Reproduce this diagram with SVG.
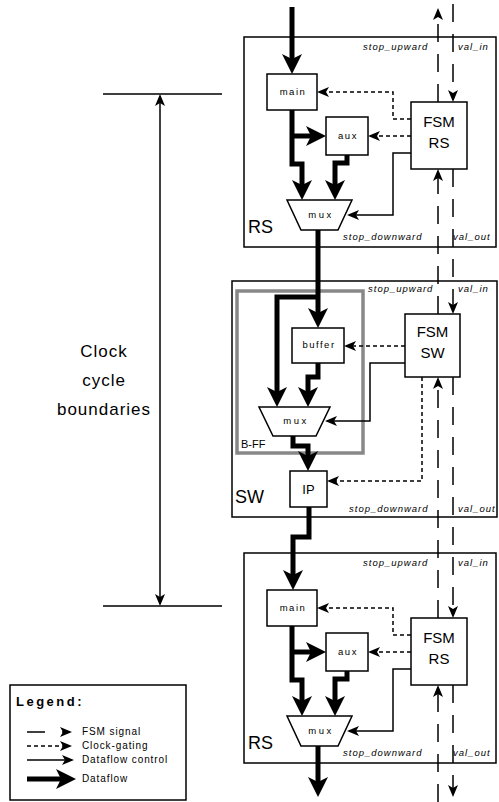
<svg xmlns="http://www.w3.org/2000/svg" width="499" height="802" viewBox="0 0 499 802">
<style>
text{font-family:"Liberation Sans",Arial,sans-serif;fill:#000}
.box{fill:#fff;stroke:#000;stroke-width:1.5}
.frame{fill:none;stroke:#000;stroke-width:1.5}
.bff{fill:none;stroke:#888;stroke-width:3.5}
.lbl{font-size:9.5px;letter-spacing:1.5px;text-anchor:middle}
.mx{font-size:9.5px;letter-spacing:2.5px;text-anchor:middle}
.fsm{font-size:15px;text-anchor:middle}
.big{font-size:18px}
.sig{font-size:9.5px;font-style:italic;letter-spacing:1px}
.data{fill:none;stroke:#000;stroke-width:5}
.ctl{fill:none;stroke:#000;stroke-width:1.5}
.cg{fill:none;stroke:#000;stroke-width:1.5;stroke-dasharray:4,3}
.fs{fill:none;stroke:#000;stroke-width:1.5;stroke-dasharray:18,12}
.leg{font-size:10px;letter-spacing:0.9px}
</style>
<defs>
<marker id="dA" viewBox="0 0 20 20" markerWidth="20" markerHeight="20" refX="14" refY="10" orient="auto" markerUnits="userSpaceOnUse"><path d="M0,0 L20,10 L0,20 L5,10 Z" fill="#000"/></marker>
<marker id="sA" viewBox="0 0 12 10" markerWidth="12" markerHeight="10" refX="10" refY="5" orient="auto-start-reverse" markerUnits="userSpaceOnUse"><path d="M0,0 L12,5 L0,10 L3,5 Z" fill="#000"/></marker>
</defs>

<!-- clock cycle boundaries -->
<g id="clock-boundaries">
<path class="ctl" d="M103,94 H222 M103,606 H222"/>
<path class="ctl" d="M160,96 V604" marker-start="url(#sA)" marker-end="url(#sA)"/>
<text x="104" y="357" font-size="17" letter-spacing="1" text-anchor="middle">Clock</text>
<text x="104" y="386" font-size="17" letter-spacing="1" text-anchor="middle">cycle</text>
<text x="104" y="415" font-size="17" letter-spacing="1" text-anchor="middle">boundaries</text>
</g>

<!-- top RS -->
<g id="rs-top">
<rect class="frame" x="244" y="37" width="252" height="210"/>
<text class="big" x="248" y="233">RS</text>
<text class="sig" x="363" y="50">stop_upward</text>
<text class="sig" x="458" y="50">val_in</text>
<text class="sig" x="343" y="240">stop_downward</text>
<text class="sig" x="453" y="240">val_out</text>
</g>
<g id="rs-top-main"><rect class="box" x="267" y="74" width="50" height="36"/><text class="lbl" x="293" y="95">main</text></g>
<g id="rs-top-aux"><rect class="box" x="326" y="117" width="42" height="38"/><text class="lbl" x="348" y="139">aux</text></g>
<g id="rs-top-mux"><polygon class="box" points="287,200 352,200 338,230 301,230"/><text class="mx" x="321" y="218">mux</text></g>
<g id="rs-top-fsm"><rect class="box" x="411" y="102" width="56" height="67"/><text class="fsm" x="439" y="127">FSM</text><text class="fsm" x="439" y="148">RS</text></g>

<!-- SW -->
<g id="sw">
<rect class="frame" x="232" y="281" width="265" height="236"/>
<text class="big" x="235" y="503">SW</text>
<text class="sig" x="368" y="292">stop_upward</text>
<text class="sig" x="458" y="292">val_in</text>
<text class="sig" x="349" y="512">stop_downward</text>
<text class="sig" x="458" y="512">val_out</text>
</g>
<g id="sw-bff"><rect class="bff" x="237" y="291" width="126" height="162"/><text x="241" y="448" font-size="11">B-FF</text></g>
<g id="sw-buffer"><rect class="box" x="292" y="328" width="52" height="35"/><text class="lbl" x="319" y="348" letter-spacing="1.2">buffer</text></g>
<g id="sw-mux"><polygon class="box" points="259,407 330,407 316,436 273,436"/><text class="mx" x="296" y="424">mux</text></g>
<g id="sw-ip"><rect class="box" x="290" y="471" width="37" height="36"/><text x="308.5" y="494" font-size="13" text-anchor="middle">IP</text></g>
<g id="sw-fsm"><rect class="box" x="405" y="314" width="55" height="63"/><text class="fsm" x="432.5" y="337">FSM</text><text class="fsm" x="432.5" y="358">SW</text></g>

<!-- bottom RS -->
<g id="rs-bottom">
<rect class="frame" x="244" y="553" width="252" height="210"/>
<text class="big" x="248" y="749">RS</text>
<text class="sig" x="363" y="566">stop_upward</text>
<text class="sig" x="458" y="566">val_in</text>
<text class="sig" x="343" y="756">stop_downward</text>
<text class="sig" x="453" y="756">val_out</text>
</g>
<g id="rs-bottom-main"><rect class="box" x="267" y="590" width="50" height="36"/><text class="lbl" x="293" y="611">main</text></g>
<g id="rs-bottom-aux"><rect class="box" x="326" y="633" width="42" height="38"/><text class="lbl" x="348" y="655">aux</text></g>
<g id="rs-bottom-mux"><polygon class="box" points="287,716 352,716 338,746 301,746"/><text class="mx" x="321" y="734">mux</text></g>
<g id="rs-bottom-fsm"><rect class="box" x="411" y="618" width="56" height="67"/><text class="fsm" x="439" y="643">FSM</text><text class="fsm" x="439" y="664">RS</text></g>

<g id="connectors">
<!-- dataflow -->
<path class="data" d="M292,7 V68" marker-end="url(#dA)"/>
<path class="data" d="M292,110 V164 H302 V194" marker-end="url(#dA)"/>
<path class="data" d="M292,136 H320" marker-end="url(#dA)"/>
<path class="data" d="M347,155 V163 H335 V194" marker-end="url(#dA)"/>
<path class="data" d="M318,230 V322" marker-end="url(#dA)"/>
<path class="data" d="M318,297 H277 V401" marker-end="url(#dA)"/>
<path class="data" d="M318,363 V377 H308 V401" marker-end="url(#dA)"/>
<path class="data" d="M293,436 V446 H308 V465" marker-end="url(#dA)"/>
<path class="data" d="M309,507 V537 H293 V584" marker-end="url(#dA)"/>
<path class="data" d="M292,626 V680 H302 V710" marker-end="url(#dA)"/>
<path class="data" d="M292,652 H320" marker-end="url(#dA)"/>
<path class="data" d="M347,671 V679 H335 V710" marker-end="url(#dA)"/>
<path class="data" d="M318,746 V791" marker-end="url(#dA)"/>
<!-- clock gating -->
<path class="cg" d="M411,119 H393 V92 H319" marker-end="url(#sA)"/>
<path class="cg" d="M411,136 H370" marker-end="url(#sA)"/>
<path class="cg" d="M405,346 H346" marker-end="url(#sA)"/>
<path class="cg" d="M422,377 V481 H329" marker-end="url(#sA)"/>
<path class="cg" d="M411,635 H393 V608 H319" marker-end="url(#sA)"/>
<path class="cg" d="M411,652 H370" marker-end="url(#sA)"/>
<!-- dataflow control -->
<path class="ctl" d="M411,153 H393 V215 H349" marker-end="url(#sA)"/>
<path class="ctl" d="M405,363 H370 V421 H327" marker-end="url(#sA)"/>
<path class="ctl" d="M411,669 H393 V731 H349" marker-end="url(#sA)"/>
<!-- FSM signals: stop (upward) -->
<path class="fs" d="M438,102 V10" marker-end="url(#sA)"/>
<path class="fs" d="M438,314 V171" marker-end="url(#sA)"/>
<path class="fs" d="M438,618 V379" marker-end="url(#sA)"/>
<path class="fs" d="M438,802 V687" marker-end="url(#sA)"/>
<!-- FSM signals: val (downward) -->
<path class="fs" d="M453,4 V100" marker-end="url(#sA)"/>
<path class="fs" d="M453,169 V312" marker-end="url(#sA)"/>
<path class="fs" d="M453,377 V616" marker-end="url(#sA)"/>
<path class="fs" d="M453,685 V795" marker-end="url(#sA)"/>
</g>

<!-- legend -->
<g id="legend">
<rect class="frame" x="10" y="685" width="176" height="115"/>
<text x="16" y="706" font-size="13" font-weight="bold" letter-spacing="2.5">Legend:</text>
<path class="ctl" d="M27,732 H70" stroke-dasharray="18,17" marker-end="url(#sA)"/>
<path class="cg" d="M27,746 H70" marker-end="url(#sA)"/>
<path class="ctl" d="M27,760 H72" marker-end="url(#sA)"/>
<path class="data" d="M27,779 H70" marker-end="url(#dA)"/>
<text class="leg" x="82" y="735">FSM signal</text>
<text class="leg" x="82" y="749">Clock-gating</text>
<text class="leg" x="82" y="763">Dataflow control</text>
<text class="leg" x="82" y="782">Dataflow</text>
</g>
</svg>
